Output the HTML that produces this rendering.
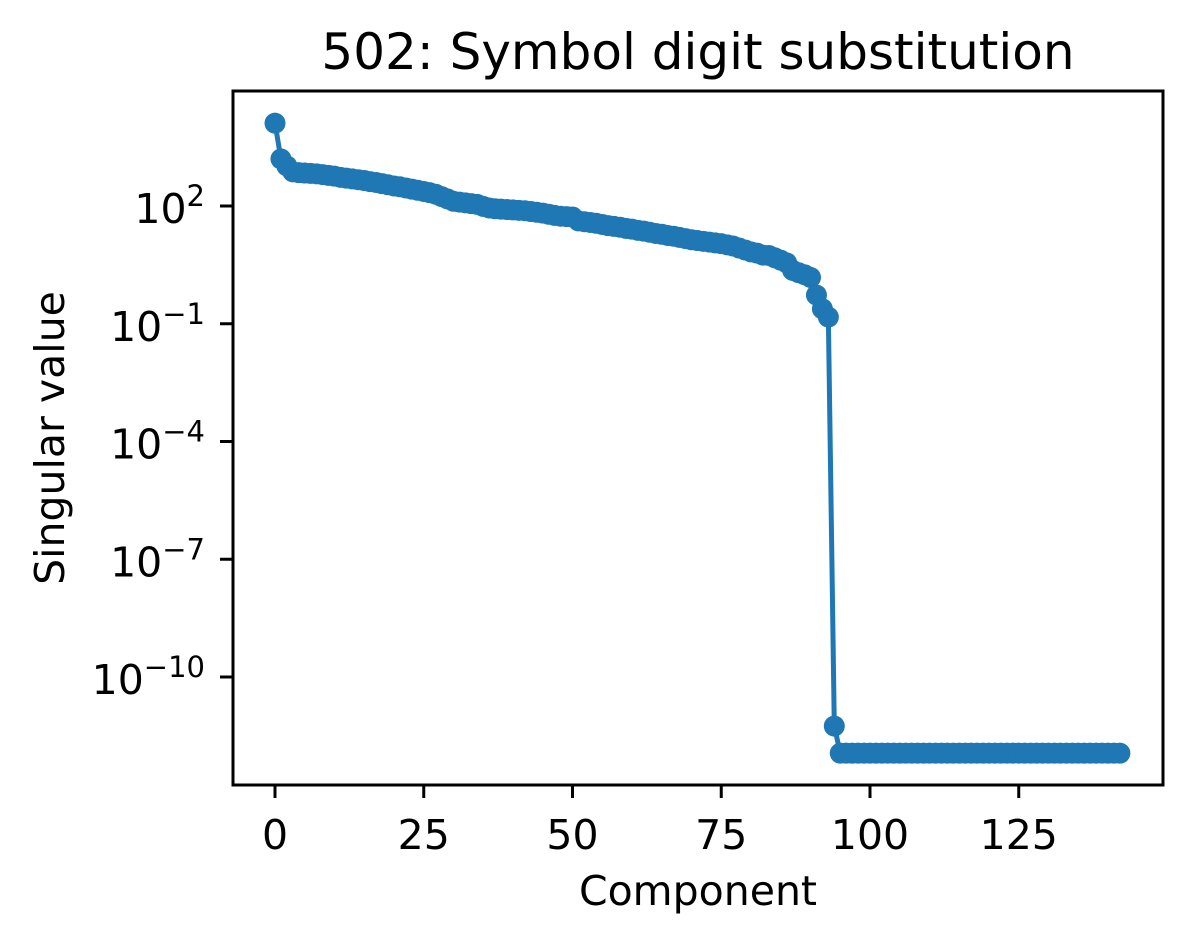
<!DOCTYPE html>
<html><head><meta charset="utf-8"><style>
body{margin:0;background:#fff;}
svg text{font-family:"DejaVu Sans","Liberation Sans",sans-serif;fill:#000;}
</style></head><body>
<svg id="chart" width="1192" height="945" viewBox="0 0 1192 945" xmlns="http://www.w3.org/2000/svg">
<rect width="1192" height="945" fill="#fff"/>
<text x="698" y="69" font-size="50" text-anchor="middle">502: Symbol digit substitution</text>
<g id="series"></g>
<g id="axes"></g>
<rect x="233" y="91" width="930" height="694" fill="none" stroke="#000" stroke-width="3"/>
<text x="698" y="905" font-size="41" text-anchor="middle">Component</text>
<text transform="translate(64,438) rotate(-90)" font-size="41" text-anchor="middle">Singular value</text>
</svg>
<script>
const xTicks = [0, 25, 50, 75, 100, 125];
const yTickExponents = [2, -1, -4, -7, -10];
const log10Values = [
4.11,3.20,3.02,2.87,2.85,2.84,2.83,2.82,2.80,2.78,
2.76,2.73,2.71,2.69,2.67,2.65,2.62,2.60,2.57,2.54,
2.51,2.49,2.46,2.43,2.40,2.37,2.34,2.30,2.24,2.18,
2.12,2.10,2.08,2.06,2.04,1.99,1.95,1.93,1.92,1.91,
1.90,1.89,1.88,1.86,1.84,1.82,1.79,1.76,1.74,1.73,
1.72,1.62,1.60,1.58,1.56,1.53,1.50,1.48,1.46,1.43,
1.41,1.38,1.36,1.33,1.30,1.28,1.25,1.23,1.20,1.17,
1.14,1.12,1.10,1.08,1.06,1.04,1.01,0.98,0.93,0.88,
0.83,0.80,0.75,0.74,0.68,0.62,0.55,0.36,0.30,0.25,
0.18,-0.27,-0.62,-0.83,-11.25,
-11.94,-11.94,-11.94,-11.94,-11.94,-11.94,-11.94,-11.94,-11.94,-11.94,
-11.94,-11.94,-11.94,-11.94,-11.94,-11.94,-11.94,-11.94,-11.94,-11.94,
-11.94,-11.94,-11.94,-11.94,-11.94,-11.94,-11.94,-11.94,-11.94,-11.94,
-11.94,-11.94,-11.94,-11.94,-11.94,-11.94,-11.94,-11.94,-11.94,-11.94,
-11.94,-11.94,-11.94,-11.94,-11.94,-11.94,-11.94,-11.94
];
const NS = "http://www.w3.org/2000/svg";
function xs(v){ return 275 + v * 5.95; }
function ys(l){ return 206 - (l - 2) * 39.25; }
const series = document.getElementById('series');
const axes = document.getElementById('axes');
let d = '';
log10Values.forEach((l, i) => { d += (i ? 'L' : 'M') + xs(i).toFixed(2) + ' ' + ys(l).toFixed(2); });
const line = document.createElementNS(NS, 'path');
line.setAttribute('d', d);
line.setAttribute('fill', 'none');
line.setAttribute('stroke', '#1f77b4');
line.setAttribute('stroke-width', '5');


series.appendChild(line);
log10Values.forEach((l, i) => {
  const c = document.createElementNS(NS, 'circle');
  c.setAttribute('cx', xs(i)); c.setAttribute('cy', ys(l)); c.setAttribute('r', 10.5);
  c.setAttribute('fill', '#1f77b4');
  
  
  series.appendChild(c);
});
xTicks.forEach(t => {
  const x = xs(t);
  const tk = document.createElementNS(NS, 'line');
  tk.setAttribute('x1', x); tk.setAttribute('x2', x); tk.setAttribute('y1', 785); tk.setAttribute('y2', 798);
  tk.setAttribute('stroke', '#000'); tk.setAttribute('stroke-width', '3');
  
  
  axes.appendChild(tk);
  const tx = document.createElementNS(NS, 'text');
  tx.setAttribute('x', x); tx.setAttribute('y', 849); tx.setAttribute('font-size', '41'); tx.setAttribute('text-anchor', 'middle');
  tx.textContent = t;
  
  
  axes.appendChild(tx);
});
yTickExponents.forEach(e => {
  const y = ys(e);
  const tk = document.createElementNS(NS, 'line');
  tk.setAttribute('x1', 220); tk.setAttribute('x2', 233); tk.setAttribute('y1', y); tk.setAttribute('y2', y);
  tk.setAttribute('stroke', '#000'); tk.setAttribute('stroke-width', '3');
  
  
  axes.appendChild(tk);
  const tx = document.createElementNS(NS, 'text');
  tx.setAttribute('x', 205); tx.setAttribute('y', y + 17); tx.setAttribute('font-size', '41'); tx.setAttribute('text-anchor', 'end');
  const base = document.createElementNS(NS, 'tspan'); base.textContent = '10';
  const sup = document.createElementNS(NS, 'tspan');
  sup.setAttribute('font-size', '29'); sup.setAttribute('dy', '-17');
  sup.textContent = (e < 0 ? '\u2212' + (-e) : String(e));
  tx.appendChild(base); tx.appendChild(sup);
  
  
  axes.appendChild(tx);
});
</script>
</body></html>
